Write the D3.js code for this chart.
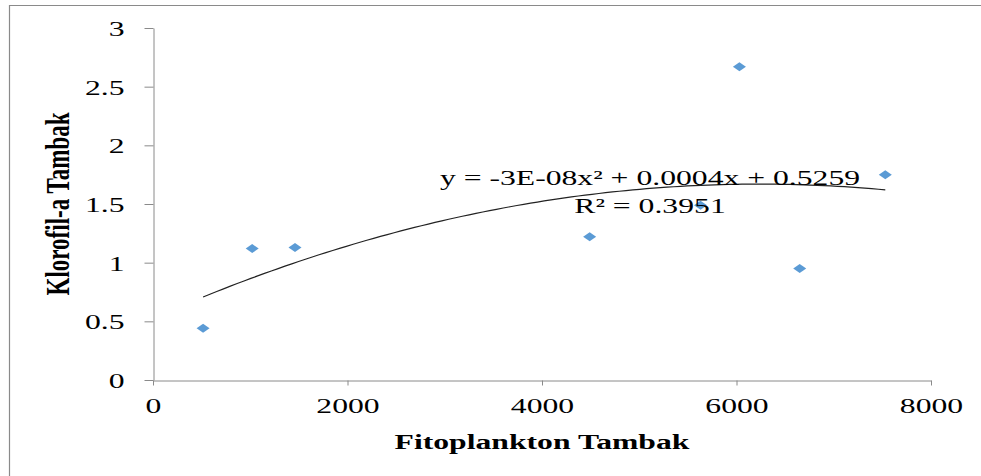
<!DOCTYPE html>
<html>
<head>
<meta charset="utf-8">
<script src="https://cdn.jsdelivr.net/npm/d3@7"></script>
<style>
  body { margin: 0; background: #fff; }
  text { font-family: "Times New Roman", "Liberation Serif", serif; fill: #000; }
</style>
</head>
<body>
<div id="chart"></div>
<script>
// data
const fitoplankton = [515, 1020, 1460, 4490, 5630, 6030, 6650, 7530];
const klorofil = [0.44, 1.12, 1.13, 1.22, 1.49, 2.67, 0.95, 1.75];
const xTicks = [0, 2000, 4000, 6000, 8000];
const yTicks = [0, 0.5, 1, 1.5, 2, 2.5, 3];
const equationLines = ["y = -3E-08x² + 0.0004x + 0.5259", "R² = 0.3951"];

const WIDTH = 981;
const HEIGHT = 476;
const STRETCH = 1.44; // the picture is wider than it is tall, glyphs included

const svg = d3.select("#chart")
    .append("svg")
    .attr("width", WIDTH)
    .attr("height", HEIGHT);

// frame (only top and left are visible)
svg.append("path")
    .attr("d", `M9.5,${HEIGHT} V5.5 H${WIDTH}`)
    .attr("fill", "none")
    .attr("stroke", "#8a8a8a")
    .attr("stroke-width", 1.2);

const x = d3.scaleLinear().domain([0, 8000]).range([153, 931]);
const y = d3.scaleLinear().domain([0, 3]).range([380, 28]);

const yAxis = svg.append("g")
    .attr("transform", "translate(153.5,0)")
    .call(d3.axisLeft(y).tickValues(yTicks).tickSize(9).tickSizeOuter(0).tickFormat(d => String(d)));

const xAxis = svg.append("g")
    .attr("transform", "translate(0,380.5)")
    .call(d3.axisBottom(x).tickValues(xTicks).tickSize(5).tickSizeOuter(0).tickFormat(d => String(d)));

[yAxis, xAxis].forEach(g => {
    g.select(".domain").attr("stroke", "#8a8a8a");
    g.selectAll(".tick line").attr("stroke", "#8a8a8a");
    g.selectAll(".tick text")
        .attr("font-size", 22)
        .attr("font-family", "'Times New Roman', 'Liberation Serif', serif")
        .attr("fill", "#000");
});

yAxis.selectAll(".tick text")
    .attr("x", 0).attr("dy", "0.34em")
    .attr("text-anchor", "end")
    .attr("transform", `translate(-29,0) scale(${STRETCH},1)`);

xAxis.selectAll(".tick text")
    .attr("y", 0).attr("dy", 0)
    .attr("text-anchor", "middle")
    .attr("transform", `translate(0,32.5) scale(${STRETCH},1)`);

// axis titles
svg.append("text")
    .attr("transform", `translate(542,449) scale(${STRETCH},1)`)
    .attr("text-anchor", "middle")
    .attr("font-size", 22)
    .attr("font-weight", "bold")
    .text("Fitoplankton Tambak");

svg.append("text")
    .attr("transform", `translate(69,204) rotate(-90) scale(1,${STRETCH})`)
    .attr("text-anchor", "middle")
    .attr("font-size", 23)
    .attr("font-weight", "bold")
    .text("Klorofil-a Tambak");

// quadratic least-squares trendline
const pts = fitoplankton.map((v, i) => [v, klorofil[i]]);
const S = k => d3.sum(pts, p => Math.pow(p[0], k));
const T = k => d3.sum(pts, p => Math.pow(p[0], k) * p[1]);
const A = [[S(4), S(3), S(2)], [S(3), S(2), S(1)], [S(2), S(1), S(0)]];
const B = [T(2), T(1), T(0)];
const solve3 = (M, v) => {
    const det = m => m[0][0] * (m[1][1] * m[2][2] - m[1][2] * m[2][1])
        - m[0][1] * (m[1][0] * m[2][2] - m[1][2] * m[2][0])
        + m[0][2] * (m[1][0] * m[2][1] - m[1][1] * m[2][0]);
    const d = det(M);
    return [0, 1, 2].map(c => det(M.map((row, r) => row.map((val, j) => j === c ? v[r] : val))) / d);
};
const [qa, qb, qc] = solve3(A, B);
const fit = t => qa * t * t + qb * t + qc;

const x0 = d3.min(fitoplankton);
const x1 = d3.max(fitoplankton);
const curve = d3.range(0, 101).map(i => x0 + (x1 - x0) * i / 100);

svg.append("path")
    .datum(curve)
    .attr("d", d3.line().x(d => x(d)).y(d => y(fit(d))))
    .attr("fill", "none")
    .attr("stroke", "#222")
    .attr("stroke-width", 1.2);

// markers
svg.selectAll("path.pt")
    .data(pts)
    .join("path")
    .attr("class", "pt")
    .attr("transform", d => `translate(${x(d[0])},${y(d[1])})`)
    .attr("d", "M0,-4.5L6.5,0L0,4.5L-6.5,0Z")
    .attr("fill", "#5b9bd5");

// equation label
svg.selectAll("text.eq")
    .data(equationLines)
    .join("text")
    .attr("class", "eq")
    .attr("transform", (d, i) => `translate(650,${185 + i * 28}) scale(${STRETCH},1)`)
    .attr("text-anchor", "middle")
    .attr("font-size", 22)
    .text(d => d);
</script>
</body>
</html>
